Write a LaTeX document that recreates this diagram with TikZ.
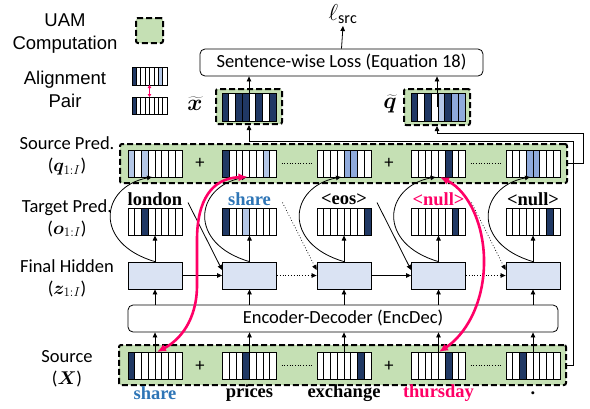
\documentclass[tikz,border=0pt]{standalone}
\usepackage{fix-cm}
\usepackage{fontspec}
\usepackage{bm}
\setmainfont{Carlito}
\newfontfamily\tnr{Liberation Serif}
\newfontfamily\arl{Liberation Sans}
\usetikzlibrary{arrows.meta,calc}
\definecolor{cD}{HTML}{203864}
\definecolor{cL}{HTML}{B4C7E7}
\definecolor{cM}{HTML}{8FAADC}
\definecolor{cW}{HTML}{FFFFFF}
\definecolor{uamgreen}{HTML}{C5E0B4}
\definecolor{hidblue}{HTML}{DAE3F3}
\definecolor{wblue}{HTML}{2E75B6}
\definecolor{wpink}{HTML}{FF0066}
\newcommand\vecrow[6]{%
  \foreach \vc [count=\vi from 0] in {#6}{%
    \pgfmathsetmacro\xa{#2-4*#4+\vi*#4}%
    \pgfmathsetmacro\xb{\xa+#4}%
    \filldraw[fill=\vc, draw=black, line width=0.7pt] (\xa,{#3-#5/2}) rectangle (\xb,{#3+#5/2});
  }%
  \node[draw, line width=0.9pt, minimum width={8*#4pt}, minimum height={#5pt}, inner sep=0pt, outer sep=0pt] (#1) at (#2,#3) {};
}
\tikzset{
  arr/.style={-{Triangle[length=5pt,width=4.5pt]}, line width=0.8pt},
  uam/.style={draw, fill=uamgreen, line width=2pt, dash pattern=on 6pt off 3pt, rounded corners=2pt, inner sep=0pt},
  hid/.style={draw, fill=hidblue, line width=0.8pt, minimum width=54pt, minimum height=27pt, inner sep=0pt},
  lbl/.style={align=center, font=\fontsize{18.5}{22}\selectfont, inner sep=1pt},
  mlbl/.style={font=\fontsize{23}{25}\selectfont, inner sep=0pt},
  word/.style={font=\fontsize{18.5}{22}\selectfont\tnr\bfseries, inner sep=0pt},
  dots/.style={dotted, line width=0.7pt},
  pinkarr/.style={{Latex[length=9pt,width=8pt]}-{Latex[length=9pt,width=8pt]}, line width=2.6pt, draw=wpink},
}
\begin{document}
\begin{tikzpicture}[x=1pt,y=-1pt]
\useasboundingbox (0,0) rectangle (590,408);
% legend
\node[lbl, font=\fontsize{18.5}{23}\selectfont\arl] (legt1) at (65,33.5) {UAM\\Computation};
\node[uam, minimum width=27pt, minimum height=25pt] (leg) at (149.5,30.5) {};
\node[lbl, font=\fontsize{18.5}{23}\selectfont\arl] (legt2) at (65,89.5) {Alignment\\Pair};
\vecrow{lega}{149.5}{76}{4.375}{18}{cD,cW,cW,cW,cW,cW,cL,cW}
\vecrow{legb}{149.5}{105.5}{4.375}{17}{cD,cW,cW,cW,cW,cW,cW,cW}
\draw[{Triangle[length=3pt,width=3.5pt]}-{Triangle[length=3pt,width=3.5pt]}, wpink, line width=1pt] (lega.south) -- (legb.north);
% loss
\node[draw, rounded corners=5pt, line width=0.8pt, minimum width=283pt, minimum height=27pt, lbl] (loss) at (341.5,62.5) {Sentence-wise Loss (Equation 18)};
\node[mlbl] (lsrc) at (343,14) {$\ell_{\mathrm{src}}$};
\draw[arr] (loss.north) -- ($(lsrc.south)+(0,2)$);
% x tilde, q tilde
\node[uam, minimum width=66pt, minimum height=35pt] (xtb) at (249,106.5) {};
\vecrow{xtv}{249}{107}{6.75}{28}{cD,cW,cD,cD,cW,cD,cW,cD}
\node[mlbl] (xtl) at (195,104) {$\widetilde{\bm{x}}$};
\node[uam, minimum width=66pt, minimum height=36pt] (qtb) at (437,107) {};
\vecrow{qtv}{438}{107}{6.75}{28}{cD,cW,cD,cW,cL,cD,cM,cM}
\node[mlbl] (qtl) at (390,104) {$\widetilde{\bm{q}}$};
% left labels
\node[lbl] (l1) at (67,156) {Source Pred.\\($\bm{q}_{1:I}$)};
\node[lbl] (l2) at (67,218) {Target Pred.\\($\bm{o}_{1:I}$)};
\node[lbl] (l3) at (67,278) {Final Hidden\\($\bm{z}_{1:I}$)};
\node[lbl] (l4) at (67,369) {Source\\($\bm{X}$)};
% green boxes
\node[uam, minimum width=447pt, minimum height=39pt] (spb) at (343.5,163.5) {};
\node[uam, minimum width=447pt, minimum height=40pt] (srb) at (342.5,365) {};
% source pred vectors
\vecrow{p1}{155}{163.5}{6.75}{27}{cL,cW,cL,cW,cW,cW,cW,cW}
\vecrow{p2}{249.5}{163.5}{6.75}{27}{cD,cW,cW,cW,cW,cW,cL,cW}
\vecrow{p3}{344}{163.5}{6.75}{27}{cW,cW,cW,cW,cM,cM,cW,cW}
\vecrow{p4}{438.5}{163.5}{6.75}{27}{cW,cW,cW,cW,cW,cD,cW,cW}
\vecrow{p5}{533}{163.5}{6.75}{27}{cW,cW,cW,cM,cM,cW,cW,cW}
\node[lbl] (pl1) at (200,163.5) {+};
\node[lbl] (pl2) at (389,163.5) {+};
\draw[dots] ($(p2.east)+(5,0)$) -- ($(p3.west)+(-5,0)$);
\draw[dots] ($(p4.east)+(5,0)$) -- ($(p5.west)+(-5,0)$);
% target pred vectors
\vecrow{t1}{155}{222}{6.75}{27}{cW,cW,cD,cW,cW,cW,cW,cW}
\vecrow{t2}{249.5}{222}{6.75}{27}{cD,cW,cW,cL,cW,cW,cW,cW}
\vecrow{t3}{344}{222}{6.75}{27}{cW,cW,cW,cW,cW,cW,cW,cD}
\vecrow{t4}{438.5}{222}{6.75}{27}{cW,cW,cW,cW,cW,cW,cD,cW}
\vecrow{t5}{533}{222}{6.75}{27}{cW,cW,cW,cW,cW,cW,cD,cW}
\node[word] (w1) at (155,199) {london};
\node[word, text=wblue] (w2) at (249.5,199) {share};
\node[word] (w3) at (344,199) {<eos>};
\node[word, text=wpink] (w4) at (438.5,199) {<null>};
\node[word] (w5) at (533,199) {<null>};
% hidden
\node[hid] (h1) at (155,275.5) {};
\node[hid] (h2) at (249.5,275.5) {};
\node[hid] (h3) at (344,275.5) {};
\node[hid] (h4) at (438.5,275.5) {};
\node[hid] (h5) at (533,275.5) {};
% encdec
\node[draw, rounded corners=5pt, line width=0.8pt, minimum width=430pt, minimum height=27pt, lbl] (enc) at (343,318.5) {Encoder-Decoder (EncDec)};
% source vectors
\vecrow{s1}{155}{365.5}{6.75}{27}{cD,cW,cW,cW,cW,cW,cW,cW}
\vecrow{s2}{249.5}{365.5}{6.75}{27}{cW,cW,cW,cD,cW,cW,cW,cW}
\vecrow{s3}{344}{365.5}{6.75}{27}{cW,cW,cW,cW,cW,cW,cD,cW}
\vecrow{s4}{438.5}{365.5}{6.75}{27}{cW,cW,cW,cW,cW,cD,cW,cW}
\vecrow{s5}{533}{365.5}{6.75}{27}{cW,cW,cD,cW,cW,cW,cW,cW}
\node[lbl] (pl3) at (200,366) {+};
\node[lbl] (pl4) at (389,366) {+};
\draw[dots] ($(s2.east)+(5,0)$) -- ($(s3.west)+(-5,0)$);
\draw[dots] ($(s4.east)+(5,0)$) -- ($(s5.west)+(-5,0)$);
\node[word, text=wblue] (x1) at (155,393) {share};
\node[word] (x2) at (249.5,393) {prices};
\node[word] (x3) at (344,393) {exchange};
\node[word, text=wpink] (x4) at (438.5,393) {thursday};
\node[word] (x5) at (533,393) {.};
% vertical arrows and curves
\foreach \i in {1,...,5}{
  \draw[arr] (h\i.north) -- (t\i.south);
  \draw[arr] (h\i.south |- enc.north) -- (h\i.south);
  \draw[arr] (s\i.center) -- (s\i.center |- enc.south);
  \draw[arr] (h\i.north) .. controls +(-62,-18) and +(-52,10) .. ($(p\i.south)+(-3,0)$);
}
% hidden chain
\draw[arr] (h1.east) -- (h2.west);
\draw[arr, dots] (h2.east) -- (h3.west);
\draw[arr] (h3.east) -- (h4.west);
\draw[arr, dots] (h4.east) -- (h5.west);
% diagonals
\draw[arr] ($(t1.north east)+(6,-6)$) -- ($(h2.west)+(0,-5.5)$);
\draw[arr, dots] ($(t2.north east)+(6,-6)$) -- ($(h3.west)+(0,-5.5)$);
\draw[arr] ($(t3.north east)+(6,-6)$) -- ($(h4.west)+(0,-5.5)$);
\draw[arr, dots] ($(t4.north east)+(6,-6)$) -- ($(h5.west)+(0,-5.5)$);
% to loss
\draw[arr] (xtv.center) -- (xtv.center |- loss.south);
\draw[arr] (qtb.center) -- (qtb.center |- loss.south);
\draw[arr] (srb.east) -- ++(6,0) |- ($(xtb.south)+(0,16)$) -- (xtb.south);
\draw[arr] (spb.east) -- ++(15,0) |- ($(qtb.south)+(0,7)$) -- (qtb.south);
% pink alignment
\draw[pinkarr] ($(p2.south)+(-2,0)$) .. controls (212,178) and (197,200) .. (197,240) -- (197,285) .. controls (197,320) and (180,340) .. ($(s1.north)+(2,0)$);
\draw[pinkarr] ($(p4.south)+(1.5,0)$) .. controls (470,192) and (485,228) .. (484,265) .. controls (483,305) and (465,335) .. ($(s4.north)+(0.5,0)$);
\end{tikzpicture}
\end{document}
